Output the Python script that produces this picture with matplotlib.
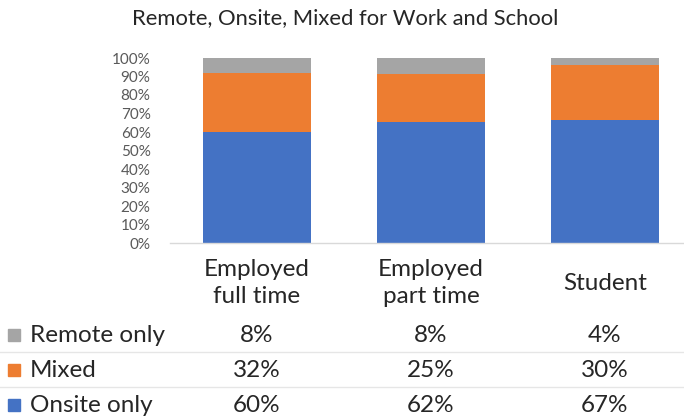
import matplotlib.pyplot as plt
import numpy as np

categories = ["Employed\nfull time", "Employed\npart time", "Student"]
series_names = ["Remote only", "Mixed", "Onsite only"]
remote = [8, 8, 4]
mixed = [32, 25, 30]
onsite = [60, 62, 67]
colors = {"Remote only": "#A5A5A5", "Mixed": "#ED7D31", "Onsite only": "#4472C4"}
yticks = [0, 10, 20, 30, 40, 50, 60, 70, 80, 90, 100]

plt.rcParams['font.family'] = ['Lato', 'DejaVu Sans']

W, H = 684, 419
fig = plt.figure(figsize=(W / 100, H / 100), dpi=100)

def fx(px):
    return px / W

def fy(py):
    return 1 - py / H

ax_left, ax_right = 170, 692
ax_top, ax_bot = 58, 243
ax = fig.add_axes([fx(ax_left), fy(ax_bot), fx(ax_right - ax_left), fy(ax_top) - fy(ax_bot)])

on = np.array(onsite, float)
mx = np.array(mixed, float)
rm = np.array(remote, float)
tot = on + mx + rm
on_p = on / tot * 100
mx_p = mx / tot * 100
rm_p = rm / tot * 100
x = np.arange(len(categories))
bw = 0.615
ax.bar(x, on_p, width=bw, color=colors["Onsite only"])
ax.bar(x, mx_p, width=bw, bottom=on_p, color=colors["Mixed"])
ax.bar(x, rm_p, width=bw, bottom=on_p + mx_p, color=colors["Remote only"])

ax.set_xlim(-0.5, 2.5)
ax.set_ylim(0, 100)
ax.set_yticks(yticks)
ax.set_yticklabels([f"{v}%" for v in yticks], color="#595959", fontsize=11)
ax.tick_params(axis='y', length=0, pad=14)
ax.set_xticks([])
for s in ["top", "right", "left"]:
    ax.spines[s].set_visible(False)
ax.spines["bottom"].set_color("#D9D9D9")
ax.spines["bottom"].set_linewidth(1)

fig.text(fx(345), fy(18), "Remote, Onsite, Mixed for Work and School",
         ha="center", va="center", fontsize=15.8, color="#262626")

# category labels
for i, c in enumerate(categories):
    xc = ax.transData.transform((x[i], 0))[0] / fig.dpi / fig.get_figwidth()
    fig.text(xc, fy(283), c, ha="center", va="center", fontsize=17.5,
             color="#262626", linespacing=1.3)

# data table
rows_y = {"Remote only": 335, "Mixed": 370, "Onsite only": 405}
data = {"Remote only": remote, "Mixed": mixed, "Onsite only": onsite}
for name in series_names:
    yy = rows_y[name]
    fig.patches.append(plt.Rectangle((fx(8), fy(yy + 6)), fx(12), fy(yy - 6) - fy(yy + 6),
                                     color=colors[name], transform=fig.transFigure))
    fig.text(fx(30), fy(yy), name, ha="left", va="center", fontsize=17.5, color="#262626")
    for i, v in enumerate(data[name]):
        xc = ax.transData.transform((x[i], 0))[0] / fig.dpi / fig.get_figwidth()
        fig.text(xc, fy(yy), f"{v}%", ha="center", va="center", fontsize=17.5, color="#262626")

for ly in [352, 387]:
    fig.add_artist(plt.Line2D([0, 1], [fy(ly), fy(ly)], color="#E6E6E6", linewidth=1,
                              transform=fig.transFigure))

fig.savefig("out.png", dpi=100)
